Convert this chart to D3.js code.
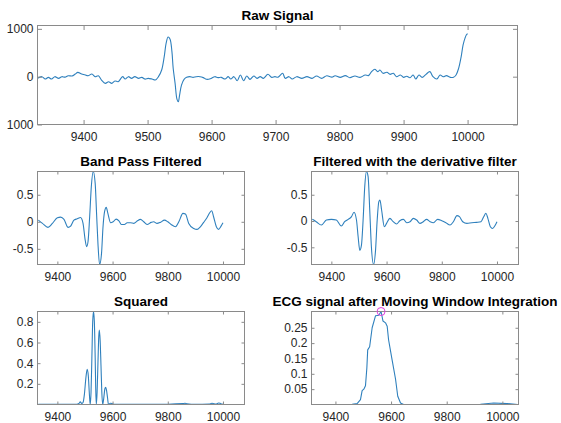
<!DOCTYPE html>
<html><head><meta charset="utf-8">
<script src="https://cdn.jsdelivr.net/npm/d3@7"></script>
<style>
html,body{margin:0;padding:0;background:#fff;}
svg{display:block;font-family:"Liberation Sans",Arial,Helvetica,sans-serif;}
</style></head><body>
<svg id="chart" width="561" height="423"></svg>
<script>
// ---------- Raw Signal ----------
const rawX = [9328,9335,9340,9345,9350,9355,9361,9366,9371,9376,9382,9387,9391,9397,9402,9407,9413,9418,9423,9428,9434,9439,9444,9449,9454,9461,9465,9470,9475,9480,9486,9491,9496,9501,9507,9512,9517,9522,9526,9529,9532,9535,9538,9540,9543,9546,9548,9550,9553,9557,9561,9566,9571,9576,9582,9587,9592,9598,9605,9610,9615,9621,9626,9630,9635,9640,9645,9650,9655,9660,9666,9671,9676,9681,9688,9694,9699,9704,9711,9715,9721,9726,9733,9741,9749,9757,9764,9772,9780,9788,9793,9801,9809,9816,9824,9832,9840,9845,9850,9855,9860,9863,9868,9874,9879,9884,9889,9895,9900,9905,9910,9915,9919,9924,9929,9935,9941,9946,9952,9957,9962,9967,9973,9978,9982,9986,9990,9993,9996,9998,10000];
const rawY = [-35,0,-50,-15,-50,0,-35,0,-10,20,15,55,90,55,40,20,55,0,20,-70,-140,-105,-140,-90,-105,0,-50,0,-35,0,-35,-15,-50,-35,-50,-70,0,140,420,700,830,790,530,175,-140,-476,-525,-385,-175,-55,-14,0,-14,0,0,-20,-55,-45,0,-20,-14,-50,0,-50,0,-84,35,-84,14,-56,14,-35,0,-35,50,-14,0,-10,70,-35,0,-50,0,-35,0,-35,14,-35,20,-10,20,-14,22,-21,15,-14,35,22,105,154,105,140,70,91,49,70,0,35,-14,8,-21,35,-49,35,-14,49,105,0,-49,35,0,22,-14,-14,35,175,421,667,807,870,900];
const rawXTicks = [9400,9500,9600,9700,9800,9900,10000];
const rawYTicks = [-1000,0,1000];
const rawYTickLabels = ["1000","0","1000"];

// ---------- Band Pass Filtered ----------
const bpX = [9331,9346,9366,9382,9400,9412,9424,9439,9448,9460,9472,9484,9493,9500,9506,9511,9517,9523,9530,9537,9542,9547,9553,9560,9565,9571,9577,9583,9593,9602,9613,9623,9632,9643,9653,9665,9677,9689,9701,9713,9725,9740,9749,9761,9773,9788,9800,9812,9828,9840,9855,9864,9876,9894,9906,9918,9930,9942,9952,9959,9966,9976,9984,9993,10000];
const bpY = [0.031,-0.03,-0.104,-0.03,0.075,0.087,0.044,-0.104,-0.08,0.031,0.056,0.08,-0.03,-0.31,-0.46,-0.37,0.093,0.65,0.93,0.71,0.155,-0.4,-0.79,-0.585,-0.123,0.186,0.266,0.155,-0.018,0.0,0.05,0.019,-0.049,-0.049,-0.018,-0.018,-0.03,0.013,0.044,0.0,-0.049,-0.011,0.0,-0.03,-0.011,0.031,0.0,-0.049,-0.092,0.0,0.155,0.143,-0.03,-0.123,-0.141,-0.092,-0.011,0.075,0.167,0.204,0.093,-0.092,-0.141,-0.08,-0.018];

// ---------- Filtered with the derivative filter ----------
const derX = [9331,9345,9364,9382,9400,9418,9436,9448,9461,9473,9482,9491,9497,9503,9509,9515,9521,9527,9533,9539,9545,9553,9560,9566,9572,9576,9582,9592,9600,9612,9624,9636,9648,9661,9673,9685,9697,9709,9721,9733,9745,9758,9770,9785,9800,9815,9830,9842,9855,9864,9876,9891,9909,9927,9942,9952,9960,9967,9976,9984,9994,10000];
const derY = [0.032,-0.013,-0.077,0.019,0.032,0.019,-0.096,-0.013,0.032,0.083,0.167,0.019,-0.30,-0.558,-0.46,0.019,0.66,0.942,0.85,0.21,-0.49,-0.827,-0.558,0.019,0.37,0.40,0.21,-0.109,-0.045,0.051,-0.013,-0.058,0.006,0.032,-0.032,-0.013,0.051,0.019,-0.045,-0.013,0.032,-0.013,-0.032,0.032,0.006,-0.032,-0.077,-0.013,0.103,0.083,-0.013,-0.045,-0.032,-0.026,-0.013,0.083,0.147,0.051,-0.109,-0.141,-0.077,-0.013];

// ---------- Squared ----------
const sqX = [9331,9400,9440,9470,9478,9483,9488,9493,9498,9503,9508,9512,9516,9519,9522,9525,9528,9531,9534,9537,9539,9541,9544,9547,9550,9552,9555,9558,9561,9564,9568,9572,9575,9578,9582,9585,9592,9598,9605,9700,9800,9855,9862,9870,9900,9950,9960,9968,9976,9984,9992,10000];
const sqY = [0.002,0.002,0.003,0.002,0.01,0.026,0.01,0.02,0.1,0.25,0.34,0.28,0.1,0.0,0.12,0.45,0.8,0.9,0.8,0.45,0.15,0.0,0.12,0.4,0.66,0.72,0.62,0.38,0.12,0.0,0.06,0.15,0.167,0.14,0.06,0.0,0.012,0.01,0.002,0.002,0.003,0.008,0.012,0.006,0.001,0.004,0.012,0.006,0.004,0.015,0.008,0.002];

// ---------- Moving Window Integration ----------
const mwiX = [9314,9400,9460,9478,9490,9496,9502,9508,9513,9516,9523,9532,9544,9556,9564,9571,9580,9586,9591,9604,9616,9624,9634,9645,9850,9921,9969,10017,10055];
const mwiY = [0.0,0.0,0.001,0.003,0.016,0.045,0.05,0.061,0.12,0.178,0.188,0.25,0.289,0.291,0.303,0.272,0.266,0.255,0.211,0.144,0.083,0.027,0.005,0.0,0.0,0.001,0.005,0.003,0.0];
const qrsX = [9564];
const qrsY = [0.303];

const smallXTicks = [9400,9600,9800,10000];
const bpYTicks = [-0.5,0,0.5];
const sqYTicks = [0.2,0.4,0.6,0.8];
const mwiYTicks = [0.05,0.1,0.15,0.2,0.25];

const titles = ["Raw Signal","Band Pass Filtered","Filtered with the derivative filter","Squared","ECG signal after Moving Window Integration"];

const svg = d3.select("#chart");
const LINE = "#2f80bd";
const AX = "#8a8a8a";
const TXT = "#262626";

let clipId = 0;
function panel(o) {
  const x = d3.scaleLinear().domain(o.xd).range([o.x0, o.x1]);
  const y = d3.scaleLinear().domain(o.yd).range([o.y1, o.y0]);
  const g = svg.append("g");
  const id = "clip" + (clipId++);
  g.append("clipPath").attr("id", id).append("rect")
    .attr("x", o.x0).attr("y", o.y0).attr("width", o.x1 - o.x0).attr("height", o.y1 - o.y0);
  const data = o.xs.map((v, i) => [v, o.ys[i]]);
  g.append("path").datum(data)
    .attr("clip-path", `url(#${id})`)
    .attr("fill", "none").attr("stroke", LINE).attr("stroke-width", 1.1)
    .attr("stroke-linejoin", "round")
    .attr("d", d3.line().x(d => x(d[0])).y(d => y(d[1])).curve(o.curve || d3.curveMonotoneX));

  const tl = o.tl;
  const fmtX = d => d;
  const ax = [
    d3.axisBottom(x).tickValues(o.xt).tickSizeInner(-tl).tickSizeOuter(0).tickPadding(8).tickFormat(fmtX),
    d3.axisTop(x).tickValues(o.xt).tickSizeInner(-tl).tickSizeOuter(0).tickFormat(""),
    d3.axisLeft(y).tickValues(o.yt).tickSizeInner(-tl).tickSizeOuter(0).tickPadding(4).tickFormat((d, i) => o.ytl ? o.ytl[i] : d),
    d3.axisRight(y).tickValues(o.yt).tickSizeInner(-tl).tickSizeOuter(0).tickFormat("")
  ];
  const pos = [`translate(0,${o.y1})`, `translate(0,${o.y0})`, `translate(${o.x0},0)`, `translate(${o.x1},0)`];
  ax.forEach((a, i) => {
    const ag = g.append("g").attr("transform", pos[i]).call(a);
    ag.select(".domain").remove();
    ag.selectAll("line").attr("stroke", AX);
    ag.selectAll("text").attr("fill", TXT).style("font-size", "12px")
      .style("font-family", '"Liberation Sans",Arial,sans-serif');
  });
  g.append("rect").attr("x", o.x0).attr("y", o.y0).attr("width", o.x1 - o.x0).attr("height", o.y1 - o.y0)
    .attr("fill", "none").attr("stroke", AX).attr("stroke-width", 1);
  g.append("text").attr("x", (o.x0 + o.x1) / 2).attr("y", o.y0 - 5.5)
    .attr("text-anchor", "middle").attr("font-weight", "bold").style("font-size", "13.5px")
    .attr("fill", "#000").text(o.title);
  return {x, y, g};
}

const xdom = [9328, 10078];
panel({x0: 37.5, x1: 517.5, y0: 25.5, y1: 124.5, xd: xdom, yd: [-1000, 1070], xs: rawX, ys: rawY,
  xt: rawXTicks, yt: rawYTicks, ytl: rawYTickLabels, tl: 4.5, title: titles[0], curve: d3.curveCatmullRom});
panel({x0: 37.5, x1: 244.5, y0: 171.5, y1: 264.5, xd: xdom, yd: d3.extent(bpY), xs: bpX, ys: bpY,
  xt: smallXTicks, yt: bpYTicks, tl: 3, title: titles[1]});
panel({x0: 311.5, x1: 518.5, y0: 171.5, y1: 264.5, xd: xdom, yd: d3.extent(derY), xs: derX, ys: derY,
  xt: smallXTicks, yt: bpYTicks, tl: 3, title: titles[2]});
panel({x0: 37.5, x1: 244.5, y0: 311.5, y1: 404.5, xd: xdom, yd: [0, 0.9], xs: sqX, ys: sqY,
  xt: smallXTicks, yt: sqYTicks, tl: 3, title: titles[3], curve: d3.curveMonotoneX});
const m = panel({x0: 311.5, x1: 518.5, y0: 311.5, y1: 404.5, xd: [9314, 10058], yd: [0, d3.max(mwiY)], xs: mwiX, ys: mwiY,
  xt: smallXTicks, yt: mwiYTicks, tl: 3, title: titles[4], curve: d3.curveLinear});
m.g.selectAll("circle.qrs").data(qrsX.map((v, i) => [v, qrsY[i]])).join("circle")
  .attr("class", "qrs").attr("cx", d => m.x(d[0])).attr("cy", d => m.y(d[1])).attr("r", 4)
  .attr("fill", "none").attr("stroke", "#e040e0").attr("stroke-width", 1);
</script>
</body></html>
